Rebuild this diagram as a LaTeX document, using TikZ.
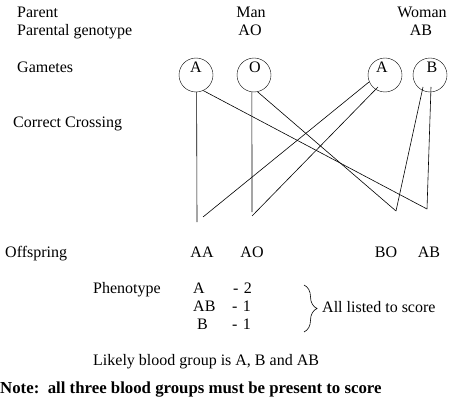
\documentclass[tikz,border=0pt]{standalone}
\usepackage{fontspec}
\setmainfont{Liberation Serif}
\usetikzlibrary{decorations.pathreplacing}

\tikzset{
  txt/.style={anchor=base west, inner sep=0pt},
  ctxt/.style={anchor=base, inner sep=0pt},
  gamete/.style={draw, circle, minimum size=34pt, inner sep=0pt},
  cross/.style={line width=0.6pt},
}

\begin{document}
\begin{tikzpicture}[x=1pt, y=-1pt, font=\fontsize{16}{19}\selectfont]
        \useasboundingbox (0,0) rectangle (452,417);

        % Row labels
        \node[txt] (parent) at (17,18) {Parent};
        \node[txt] (genotype) at (17,36) {Parental genotype};
        \node[txt] (gametes) at (17,73) {Gametes};
        \node[txt] (crossing) at (13,128) {Correct Crossing};
        \node[txt] (offspring) at (5,257) {Offspring};

        % Parents
        \node[ctxt] (man) at (251,18) {Man};
        \node[ctxt] (manG) at (250,36) {AO};
        \node[ctxt] (woman) at (422,18) {Woman};
        \node[ctxt] (womanG) at (421,36) {AB};

        % Gametes
        \node[gamete] (mA) at (196,75) {};
        \node[gamete] (mO) at (254,75) {};
        \node[gamete] (wA) at (385,75) {};
        \node[gamete] (wB) at (430,75) {};
        \node[ctxt] (mAt) at (196,73) {A};
        \node[ctxt] (mOt) at (255,73) {O};
        \node[ctxt] (wAt) at (382,73) {A};
        \node[ctxt] (wBt) at (432,73) {B};

        % Offspring
        \node[ctxt] (oAA) at (202,257) {AA};
        \node[ctxt] (oAO) at (252,257) {AO};
        \node[ctxt] (oBO) at (386,257) {BO};
        \node[ctxt] (oAB) at (429,257) {AB};

        % Line ends
        \coordinate (eAA1) at (197,222);
        \coordinate (eAA2) at (203,217);
        \coordinate (eAO1) at (252,212);
        \coordinate (eAO2) at (252,216);
        \coordinate (eBO1) at (396,211);
        \coordinate (eAB1) at (427,209);
        \coordinate (sWA1) at (369,82);
        \coordinate (sWA2) at (378,87);
        \coordinate (sWB1) at (423,87);
        \coordinate (sWB2) at (431,87);

        % Crossing
        \draw[cross] (mA.-88) -- (eAA1);
        \draw[cross] (mA.-65) -- (eAB1);
        \draw[cross] (mO.-97) -- (eAO1);
        \draw[cross] (mO.-78) -- (eBO1);
        \draw[cross] (sWA1) -- (eAA2);
        \draw[cross] (sWA2) -- (eAO2);
        \draw[cross] (sWB1) -- (eBO1);
        \draw[cross] (sWB2) -- (eAB1);

        % Phenotype table
        \node[txt] (pheno) at (93,293) {Phenotype};
        \node[txt] (pA) at (193,293) {A};
        \node[txt] (pAB) at (193,311) {AB};
        \node[txt] (pB) at (197,329) {B};
        \node[txt] (nA) at (233,293) {-\,\,2};
        \node[txt] (nAB) at (232,311) {-\,\,1};
        \node[txt] (nB) at (232,329) {-\,\,1};

        % Brace
        \coordinate (brTop) at (304,285);
        \coordinate (brBot) at (304,332);
        \draw[line width=0.6pt, decorate, decoration={brace, amplitude=13pt}] (brTop) -- (brBot);
        \node[txt] (score) at (322,312) {All listed to score};

        \node[txt] (likely) at (93,365) {Likely blood group is A, B and AB};
        \node[txt, font=\fontsize{16.8}{20}\selectfont\bfseries] (note) at (0,393) {Note:\ \ all three blood groups must be present to score};
\end{tikzpicture}
\end{document}
